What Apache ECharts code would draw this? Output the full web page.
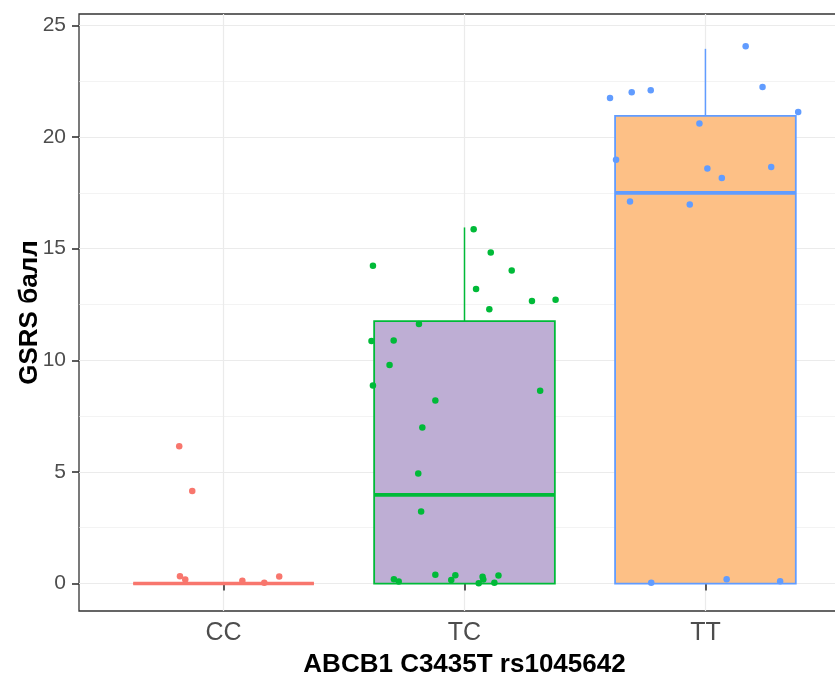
<!DOCTYPE html>
<html>
<head>
<meta charset="utf-8">
<title>GSRS by ABCB1 C3435T genotype</title>
<script src="https://cdn.jsdelivr.net/npm/echarts@6/dist/echarts.min.js"></script>
<style>
  html, body { margin: 0; padding: 0; background: #ffffff; }
  #chart { width: 835px; height: 677px; }
</style>
</head>
<body>
<div id="chart"></div>
<script>
// Genotype groups (positions 1, 2, 3 on the x scale)
var categories = ['CC', 'TC', 'TT'];

// Box statistics per genotype: [lower whisker, Q1, median, Q3, upper whisker]
var boxStats = [
  [0, 0, 0, 0, 0],
  [0, 0, 3.97, 11.75, 15.95],
  [0, 0, 17.5, 20.95, 23.95]
];

// Individual (jittered) observations: x position and GSRS score
var ccX = [0.816, 0.870, 0.819, 0.841, 1.078, 1.169, 1.231];
var ccY = [6.15, 4.15, 0.33, 0.18, 0.12, 0.03, 0.31];

var tcX = [2.038, 2.109, 1.620, 2.196, 2.048, 2.280, 2.378, 2.103, 1.811, 1.614,
           1.706, 1.689, 1.620, 2.314, 1.879, 1.825, 1.808, 1.820, 1.879, 1.707,
           1.727, 1.945, 1.962, 2.075, 2.078, 2.059, 2.124, 2.141];
var tcY = [15.87, 14.83, 14.23, 14.02, 13.19, 12.66, 12.71, 12.28, 11.63, 10.86,
           10.89, 9.79, 8.87, 8.63, 8.20, 6.99, 4.93, 3.23, 0.39, 0.19,
           0.09, 0.16, 0.37, 0.30, 0.18, 0.01, 0.03, 0.36];

var ttX = [3.167, 2.604, 2.694, 2.773, 3.237, 3.385, 2.975, 2.629, 3.008, 3.273,
           3.068, 2.687, 2.935, 2.775, 3.088, 3.310];
var ttY = [24.07, 21.75, 22.00, 22.09, 22.24, 21.12, 20.61, 18.98, 18.59, 18.66,
           18.16, 17.11, 16.98, 0.04, 0.19, 0.10];

// Axis breaks
var yMajorBreaks = [0, 5, 10, 15, 20, 25];
var yMinorBreaks = [2.5, 7.5, 12.5, 17.5, 22.5];
var xBreaks = [1, 2, 3];

// Styling
var lineColors = ['#F8766D', '#00BA38', '#619CFF'];
var fillColors = ['#7FC97F', '#BEAED4', '#FDC086'];
var FONT = 'Liberation Sans, Arial, Helvetica, sans-serif';
var BOX_WIDTH = 0.75;

function pairs(xs, ys) {
  return xs.map(function (x, i) { return [x, ys[i]]; });
}

var boxData = boxStats.map(function (s, i) {
  return [i + 1].concat(s);
});

var gridLines = []
  .concat(yMajorBreaks.map(function (v) {
    return { yAxis: v, lineStyle: { width: 1.2 } };
  }))
  .concat(yMinorBreaks.map(function (v) {
    return { yAxis: v, lineStyle: { width: 0.6 } };
  }))
  .concat(xBreaks.map(function (v) {
    return { xAxis: v, lineStyle: { width: 1.2 } };
  }));

function renderBox(params, api) {
  var i = params.dataIndex;
  var x = api.value(0);
  var pLo = api.coord([x, api.value(1)]);
  var pQ1 = api.coord([x, api.value(2)]);
  var pMed = api.coord([x, api.value(3)]);
  var pQ3 = api.coord([x, api.value(4)]);
  var pHi = api.coord([x, api.value(5)]);
  var half = api.size([BOX_WIDTH, 0])[0] / 2;
  var stroke = lineColors[i];
  return {
    type: 'group',
    children: [
      { type: 'line', shape: { x1: pQ3[0], y1: pQ3[1], x2: pHi[0], y2: pHi[1] },
        style: { stroke: stroke, lineWidth: 1.5 } },
      { type: 'line', shape: { x1: pLo[0], y1: pLo[1], x2: pQ1[0], y2: pQ1[1] },
        style: { stroke: stroke, lineWidth: 1.5 } },
      { type: 'rect',
        shape: { x: pQ1[0] - half, y: pQ3[1], width: half * 2, height: pQ1[1] - pQ3[1] },
        style: { fill: fillColors[i], stroke: stroke, lineWidth: 1.8 } },
      { type: 'line',
        shape: { x1: pMed[0] - half, y1: pMed[1], x2: pMed[0] + half, y2: pMed[1] },
        style: { stroke: stroke, lineWidth: 3.6 } }
    ]
  };
}

var chart = echarts.init(document.getElementById('chart'), null, { renderer: 'canvas' });

chart.setOption({
  animation: false,
  backgroundColor: '#ffffff',
  grid: {
    left: 79, top: 14, width: 771, height: 597,
    containLabel: false,
    outerBoundsMode: 'none',
    show: true, borderColor: '#333333', borderWidth: 1.3, backgroundColor: 'transparent'
  },
  xAxis: {
    type: 'value', min: 0.4, max: 3.6,
    splitLine: { show: false },
    axisLine: { show: false },
    axisTick: { show: true, customValues: xBreaks, length: 7, lineStyle: { color: '#333333', width: 1.6 } },
    axisLabel: {
      customValues: xBreaks, margin: 10, fontSize: 25, color: '#4D4D4D', fontFamily: FONT,
      formatter: function (v) { return categories[Math.round(v) - 1] || ''; }
    },
    name: 'ABCB1 C3435T rs1045642',
    nameLocation: 'middle', nameGap: 41, nameMoveOverlap: false,
    nameTextStyle: { fontSize: 26, fontWeight: 'bold', color: '#000000', fontFamily: FONT }
  },
  yAxis: {
    type: 'value', min: -1.23, max: 25.51,
    splitLine: { show: false },
    axisLine: { show: false },
    axisTick: { show: true, customValues: yMajorBreaks, length: 7, lineStyle: { color: '#333333', width: 1.6 } },
    axisLabel: { customValues: yMajorBreaks, margin: 13, fontSize: 21, color: '#4D4D4D', fontFamily: FONT },
    name: 'GSRS балл',
    nameLocation: 'middle', nameGap: 36, nameRotate: 90, nameMoveOverlap: false,
    nameTextStyle: { fontSize: 26, fontWeight: 'bold', color: '#000000', fontFamily: FONT }
  },
  series: [
    {
      name: 'grid',
      type: 'scatter',
      data: [],
      silent: true,
      z: 0,
      markLine: {
        silent: true, animation: false,
        z: 0,
        symbol: ['none', 'none'],
        label: { show: false },
        lineStyle: { type: 'solid', color: '#EBEBEB' },
        emphasis: { disabled: true },
        data: gridLines
      }
    },
    {
      name: 'box',
      type: 'custom',
      renderItem: renderBox,
      data: boxData,
      z: 2,
      silent: true
    },
    {
      name: 'CC', type: 'scatter', data: pairs(ccX, ccY), symbolSize: 6.5, z: 3,
      itemStyle: { color: lineColors[0], opacity: 1 }
    },
    {
      name: 'TC', type: 'scatter', data: pairs(tcX, tcY), symbolSize: 6.5, z: 3,
      itemStyle: { color: lineColors[1], opacity: 1 }
    },
    {
      name: 'TT', type: 'scatter', data: pairs(ttX, ttY), symbolSize: 6.5, z: 3,
      itemStyle: { color: lineColors[2], opacity: 1 }
    }
  ]
});
</script>
</body>
</html>
